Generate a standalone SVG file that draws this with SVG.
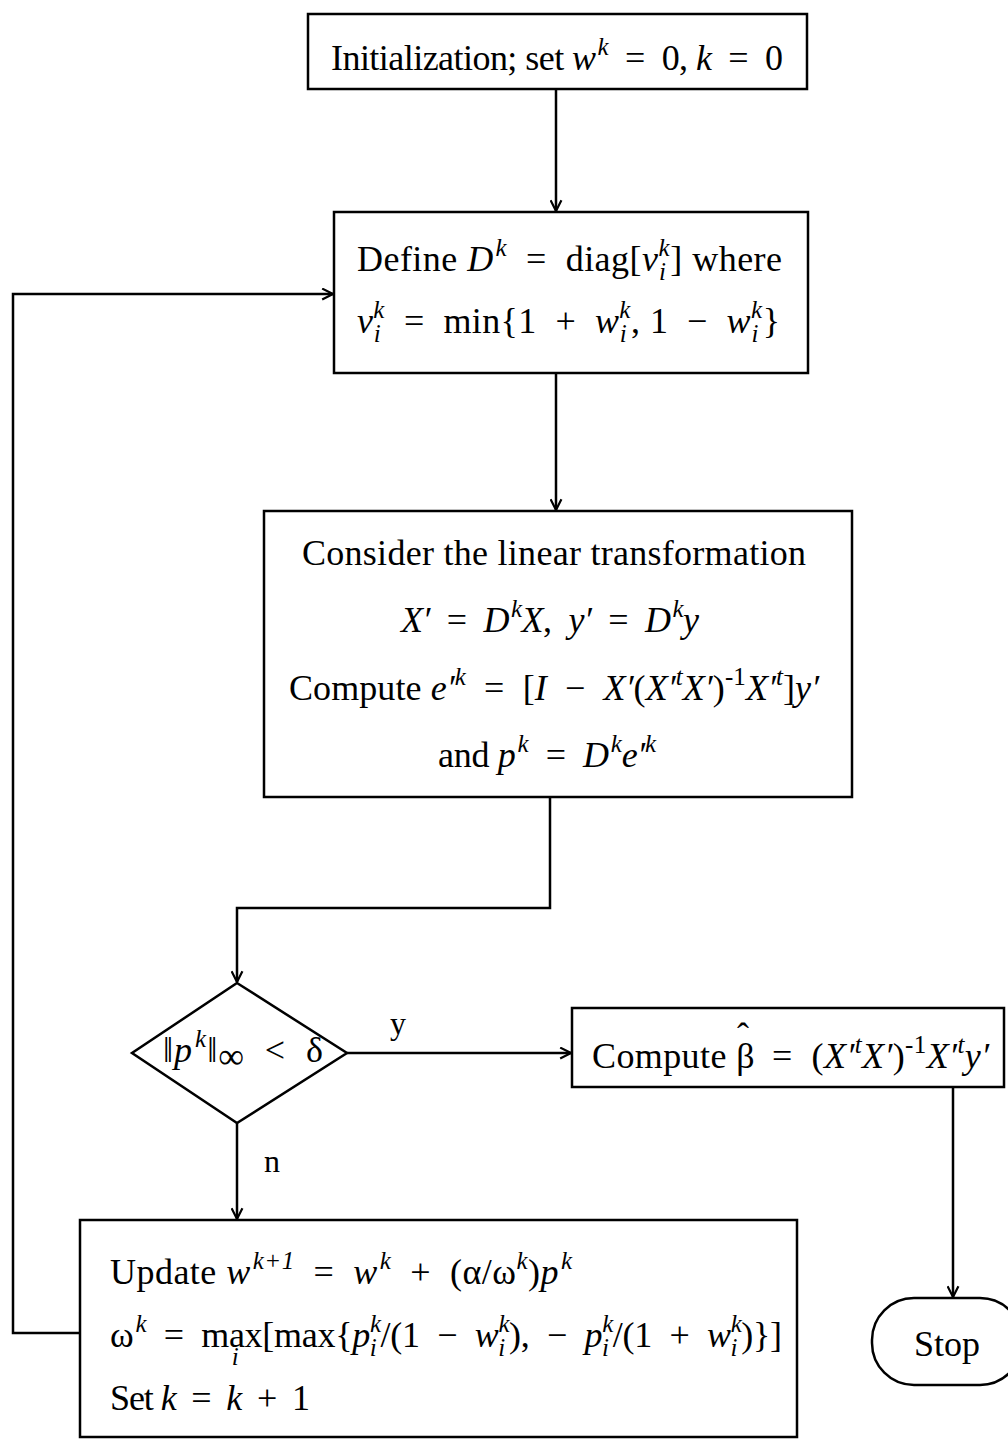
<svg xmlns="http://www.w3.org/2000/svg" width="1008" height="1451" viewBox="0 0 1008 1451">
<style>
.box{fill:#fff;stroke:#000;stroke-width:2.5}
.ln{fill:none;stroke:#000;stroke-width:2.5}
.t{font-family:"Liberation Serif","Times New Roman",serif;font-size:36px;fill:#000}
.i{font-style:italic}
.s{font-size:25px}
.lab{font-family:"Liberation Serif",serif;font-size:32px;fill:#000}
</style>
<defs>
<marker id="ah" viewBox="0 0 12 12" refX="11" refY="6" markerWidth="13" markerHeight="13" markerUnits="userSpaceOnUse" orient="auto">
<path d="M1,1 L11,6 L1,11" fill="none" stroke="#000" stroke-width="2"/>
</marker>
</defs>
<rect width="1008" height="1451" fill="#fff"/>

<g id="connectors">
<line class="ln" x1="556" y1="89" x2="556" y2="211" marker-end="url(#ah)"/>
<line class="ln" x1="556" y1="373" x2="556" y2="510" marker-end="url(#ah)"/>
<polyline class="ln" points="550,797 550,908 237,908 237,982" marker-end="url(#ah)"/>
<line class="ln" x1="347" y1="1053" x2="571" y2="1053" marker-end="url(#ah)"/>
<line class="ln" x1="953" y1="1087" x2="953" y2="1297" marker-end="url(#ah)"/>
<line class="ln" x1="237" y1="1123" x2="237" y2="1219" marker-end="url(#ah)"/>
<polyline class="ln" points="80,1333 13,1333 13,294 333,294" marker-end="url(#ah)"/>
<text class="lab" x="390" y="1034">y</text>
<text class="lab" x="264" y="1172">n</text>
</g>

<g id="init">
<rect class="box" x="308" y="14" width="499" height="75"/>
<text class="t" x="331" y="70" textLength="452">Initialization; set <tspan class="i">w</tspan><tspan class="i s" dx="2" dy="-15">k</tspan><tspan dy="15">&#160; = &#160;0, </tspan><tspan class="i">k</tspan>&#160; = &#160;0</text>
</g>

<g id="define">
<rect class="box" x="334" y="212" width="474" height="161"/>
<text class="t" x="357" y="271" textLength="425">Define <tspan class="i">D</tspan><tspan class="i s" dx="2" dy="-15">k</tspan><tspan dy="15">&#160; = &#160;diag[</tspan><tspan class="i">v</tspan><tspan class="i s" dy="-15">k</tspan><tspan class="i s" dx="-11" dy="24">i</tspan><tspan dx="4" dy="-9">] where</tspan></text>
<text class="t" x="357" y="333" textLength="423"><tspan class="i">v</tspan><tspan class="i s" dy="-15">k</tspan><tspan class="i s" dx="-11" dy="24">i</tspan><tspan dx="4" dy="-9">&#160; = &#160;min{1&#160; + &#160;</tspan><tspan class="i">w</tspan><tspan class="i s" dy="-15">k</tspan><tspan class="i s" dx="-11" dy="24">i</tspan><tspan dx="4" dy="-9">, 1&#160; − &#160;</tspan><tspan class="i">w</tspan><tspan class="i s" dy="-15">k</tspan><tspan class="i s" dx="-11" dy="24">i</tspan><tspan dx="4" dy="-9">}</tspan></text>
</g>

<g id="transform">
<rect class="box" x="264" y="511" width="588" height="286"/>
<text class="t" x="302" y="565" textLength="504">Consider the linear transformation</text>
<text class="t" x="401" y="632" textLength="298"><tspan class="i">X′</tspan>&#160; = &#160;<tspan class="i">D</tspan><tspan class="i s" dx="2" dy="-15">k</tspan><tspan class="i" dy="15">X</tspan>, &#160;<tspan class="i">y′</tspan>&#160; = &#160;<tspan class="i">D</tspan><tspan class="i s" dx="2" dy="-15">k</tspan><tspan class="i" dy="15">y</tspan></text>
<text class="t" x="289" y="700" textLength="530">Compute <tspan class="i">e′</tspan><tspan class="i s" dy="-15">k</tspan><tspan dy="15">&#160; = &#160;[</tspan><tspan class="i">I</tspan>&#160; − &#160;<tspan class="i">X′</tspan>(<tspan class="i">X′</tspan><tspan class="i s" dy="-15">t</tspan><tspan class="i" dy="15">X′</tspan>)<tspan class="s" dy="-15">-1</tspan><tspan class="i" dy="15">X′</tspan><tspan class="i s" dy="-15">t</tspan><tspan dy="15">]</tspan><tspan class="i">y′</tspan></text>
<text class="t" x="438" y="767" textLength="218">and <tspan class="i">p</tspan><tspan class="i s" dx="2" dy="-15">k</tspan><tspan dy="15">&#160; = &#160;</tspan><tspan class="i">D</tspan><tspan class="i s" dx="2" dy="-15">k</tspan><tspan class="i" dy="15">e′</tspan><tspan class="i s" dy="-15">k</tspan></text>
</g>

<g id="test">
<polygon class="box" points="237,983 347,1053 237,1123 132,1053"/>
<text class="t" x="163" y="1062" textLength="160">‖<tspan class="i">p</tspan><tspan class="i s" dx="2" dy="-15">k</tspan><tspan dy="15">‖</tspan><tspan dy="6">∞</tspan><tspan dy="-6">&#160; &lt; &#160;δ</tspan></text>
</g>

<g id="beta">
<rect class="box" x="572" y="1008" width="432" height="79"/>
<text class="t" x="592" y="1068" textLength="397">Compute β<tspan dx="-18" dy="-20">ˆ</tspan><tspan dx="4" dy="20">&#160; = &#160;(</tspan><tspan class="i">X′</tspan><tspan class="i s" dy="-15">t</tspan><tspan class="i" dy="15">X′</tspan>)<tspan class="s" dy="-15">-1</tspan><tspan class="i" dy="15">X′</tspan><tspan class="i s" dy="-15">t</tspan><tspan class="i" dy="15">y′</tspan></text>
</g>

<g id="stop">
<rect class="box" x="872" y="1298" width="150" height="87" rx="42" ry="42"/>
<text class="t" x="947" y="1356" text-anchor="middle">Stop</text>
</g>

<g id="update">
<rect class="box" x="80" y="1220" width="717" height="217"/>
<text class="t" x="110" y="1284" textLength="462">Update <tspan class="i">w</tspan><tspan class="i s" dx="2" dy="-15">k+1</tspan><tspan dy="15">&#160; = &#160;</tspan><tspan class="i">w</tspan><tspan class="i s" dx="2" dy="-15">k</tspan><tspan dy="15">&#160; + &#160;(α/ω</tspan><tspan class="i s" dy="-15">k</tspan><tspan dy="15">)</tspan><tspan class="i">p</tspan><tspan class="i s" dx="2" dy="-15">k</tspan></text>
<text class="t" x="110" y="1347" textLength="672">ω<tspan class="i s" dx="2" dy="-15">k</tspan><tspan dy="15">&#160; = &#160;ma</tspan><tspan class="i s" dx="-13" dy="18">i</tspan><tspan dx="6" dy="-18">x[max{</tspan><tspan class="i">p</tspan><tspan class="i s" dy="-15">k</tspan><tspan class="i s" dx="-11" dy="24">i</tspan><tspan dx="4" dy="-9">/(1&#160; − &#160;</tspan><tspan class="i">w</tspan><tspan class="i s" dy="-15">k</tspan><tspan class="i s" dx="-11" dy="24">i</tspan><tspan dx="4" dy="-9">), &#160;− &#160;</tspan><tspan class="i">p</tspan><tspan class="i s" dy="-15">k</tspan><tspan class="i s" dx="-11" dy="24">i</tspan><tspan dx="4" dy="-9">/(1&#160; + &#160;</tspan><tspan class="i">w</tspan><tspan class="i s" dy="-15">k</tspan><tspan class="i s" dx="-11" dy="24">i</tspan><tspan dx="4" dy="-9">)}]</tspan></text>
<text class="t" x="110" y="1410" textLength="200">Set <tspan class="i">k</tspan>&#160; = &#160;<tspan class="i">k</tspan>&#160; + &#160;1</text>
</g>
</svg>
